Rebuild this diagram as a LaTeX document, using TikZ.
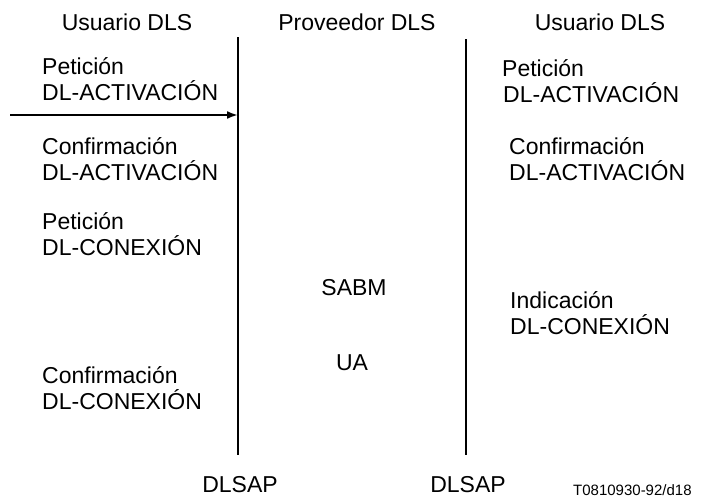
\documentclass[tikz,border=0pt]{standalone}
\usepackage{fontspec}
\setmainfont{Liberation Sans}
\usetikzlibrary{arrows.meta}
\begin{document}
\begin{tikzpicture}[x=1pt,y=-1pt,
    lbl/.style={inner sep=0pt,anchor=base west,align=left,
      font=\fontsize{23}{26}\selectfont},
    hdr/.style={inner sep=0pt,anchor=base,font=\fontsize{23}{26}\selectfont},
    wire/.style={line width=2pt}]
  \useasboundingbox (0,0) rectangle (709,499);
  \node[hdr] (ul) at (127,30) {Usuario DLS};
  \node[hdr] (pv) at (357,30) {Proveedor DLS};
  \node[hdr] (ur) at (600,30) {Usuario DLS};

  \coordinate (lt) at (238,37);
  \coordinate (lb) at (238,455);
  \coordinate (rt) at (466,39);
  \coordinate (rb) at (466,455);
  \draw[wire] (lt) -- (lb);
  \draw[wire] (rt) -- (rb);

  \coordinate (src) at (10,115);
  \coordinate (dst) at (238,115);
  \draw[wire,-{Latex[length=11pt,width=8pt]}] (src) -- (dst);

  % anchor is the baseline of the second line
  \node[lbl] (petA) at (42,100) {Petición\\DL-ACTIVACIÓN};
  \node[lbl] (confA) at (42,180) {Confirmación\\DL-ACTIVACIÓN};
  \node[lbl] (petC) at (42,255) {Petición\\DL-CONEXIÓN};
  \node[lbl] (confC) at (42,409) {Confirmación\\DL-CONEXIÓN};

  \node[lbl] (petAr) at (502,102) {Petición\\\hspace{1pt}DL-ACTIVACIÓN};
  \node[lbl] (confAr) at (509,180) {Confirmación\\DL-ACTIVACIÓN};
  \node[lbl] (indC) at (510,334) {Indicación\\DL-CONEXIÓN};

  \node[hdr] (sabm) at (354,295) {SABM};
  \node[hdr] (ua) at (352,370) {UA};

  \node[hdr] (sapL) at (240,492) {DLSAP};
  \node[hdr] (sapR) at (468,492) {DLSAP};
  \node[inner sep=0pt,anchor=base west,font=\fontsize{15}{18}\selectfont]
    (ref) at (573,495) {T0810930-92/d18};
\end{tikzpicture}
\end{document}
